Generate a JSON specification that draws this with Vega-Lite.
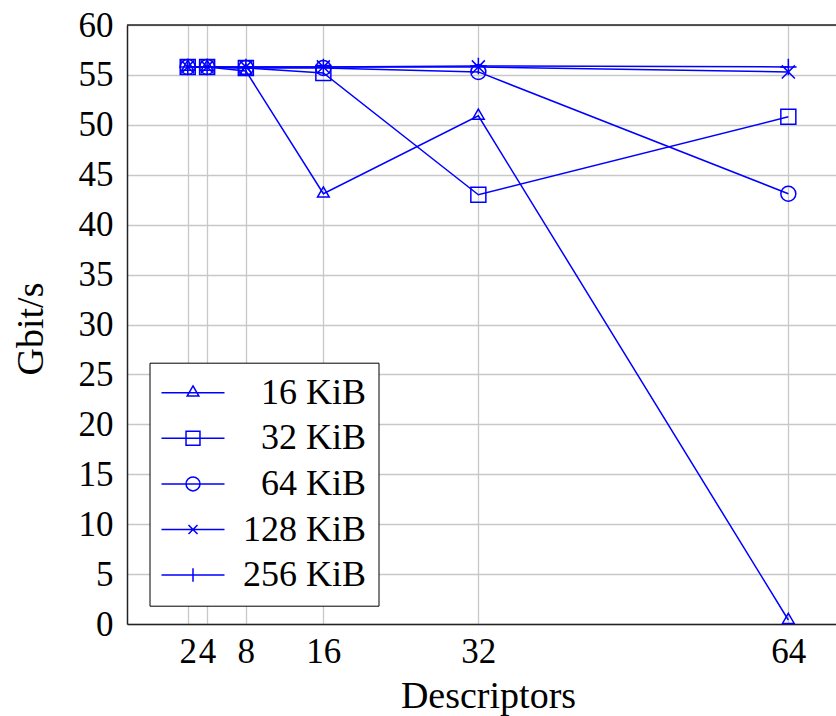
{
  "$schema": "https://vega.github.io/schema/vega-lite/v6.json",
  "width": 709,
  "height": 599,
  "autosize": {"type": "none"},
  "padding": {"left": 127, "top": 25, "right": 0, "bottom": 92},
  "background": "white",
  "config": {
    "view": {"stroke": null},
    "font": "Liberation Serif",
    "axis": {
      "labelFont": "Liberation Serif",
      "labelFontSize": 35,
      "labelColor": "black",
      "titleFont": "Liberation Serif",
      "titleFontSize": 38,
      "titleFontWeight": "normal",
      "titleColor": "black",
      "gridColor": "#c8c8c8",
      "gridWidth": 1.3,
      "domainColor": "#222222",
      "domainWidth": 1.5,
      "ticks": false
    }
  },
  "data": {
    "values": [
      {"Descriptors": 2, "Gbit": 55.8, "series": "16 KiB"},
      {"Descriptors": 4, "Gbit": 55.8, "series": "16 KiB"},
      {"Descriptors": 8, "Gbit": 55.4, "series": "16 KiB"},
      {"Descriptors": 16, "Gbit": 43.1, "series": "16 KiB"},
      {"Descriptors": 32, "Gbit": 50.9, "series": "16 KiB"},
      {"Descriptors": 64, "Gbit": 0.4, "series": "16 KiB"},
      {"Descriptors": 2, "Gbit": 55.8, "series": "32 KiB"},
      {"Descriptors": 4, "Gbit": 55.8, "series": "32 KiB"},
      {"Descriptors": 8, "Gbit": 55.7, "series": "32 KiB"},
      {"Descriptors": 16, "Gbit": 55.2, "series": "32 KiB"},
      {"Descriptors": 32, "Gbit": 43.0, "series": "32 KiB"},
      {"Descriptors": 64, "Gbit": 50.8, "series": "32 KiB"},
      {"Descriptors": 2, "Gbit": 55.8, "series": "64 KiB"},
      {"Descriptors": 4, "Gbit": 55.8, "series": "64 KiB"},
      {"Descriptors": 8, "Gbit": 55.7, "series": "64 KiB"},
      {"Descriptors": 16, "Gbit": 55.7, "series": "64 KiB"},
      {"Descriptors": 32, "Gbit": 55.3, "series": "64 KiB"},
      {"Descriptors": 64, "Gbit": 43.1, "series": "64 KiB"},
      {"Descriptors": 2, "Gbit": 55.8, "series": "128 KiB"},
      {"Descriptors": 4, "Gbit": 55.8, "series": "128 KiB"},
      {"Descriptors": 8, "Gbit": 55.8, "series": "128 KiB"},
      {"Descriptors": 16, "Gbit": 55.8, "series": "128 KiB"},
      {"Descriptors": 32, "Gbit": 55.8, "series": "128 KiB"},
      {"Descriptors": 64, "Gbit": 55.3, "series": "128 KiB"},
      {"Descriptors": 2, "Gbit": 55.8, "series": "256 KiB"},
      {"Descriptors": 4, "Gbit": 55.8, "series": "256 KiB"},
      {"Descriptors": 8, "Gbit": 55.8, "series": "256 KiB"},
      {"Descriptors": 16, "Gbit": 55.8, "series": "256 KiB"},
      {"Descriptors": 32, "Gbit": 55.9, "series": "256 KiB"},
      {"Descriptors": 64, "Gbit": 55.8, "series": "256 KiB"}
    ]
  },
  "layer": [
    {
      "mark": {"type": "line", "color": "#0000ff", "strokeWidth": 1.5},
      "encoding": {
        "x": {
          "field": "Descriptors", "type": "quantitative",
          "scale": {"domain": [-4.27, 68.92], "nice": false, "zero": false},
          "axis": {
            "values": [2, 4, 8, 16, 32, 64],
            "title": "Descriptors",
            "labelPadding": 10,
            "labelOverlap": false,
            "labelFlush": false,
            "titleX": 361,
            "titleY": 83,
            "titleBaseline": "alphabetic"
          }
        },
        "y": {
          "field": "Gbit", "type": "quantitative",
          "scale": {"domain": [0, 60], "nice": false},
          "axis": {
            "values": [0, 5, 10, 15, 20, 25, 30, 35, 40, 45, 50, 55, 60],
            "title": "Gbit/s",
            "labelPadding": 14,
            "labelOverlap": false,
            "labelFlush": false,
            "titleX": -85,
            "titleY": 303.5,
            "titleBaseline": "alphabetic",
            "titleAngle": -90
          }
        },
        "detail": {"field": "series"}
      }
    },
    {
      "mark": {"type": "point", "filled": false, "color": "#0000ff", "strokeWidth": 1.5, "size": 225, "opacity": 1},
      "encoding": {
        "x": {"field": "Descriptors", "type": "quantitative"},
        "y": {"field": "Gbit", "type": "quantitative"},
        "shape": {
          "field": "series", "type": "nominal",
          "scale": {
            "domain": ["16 KiB", "32 KiB", "64 KiB", "128 KiB", "256 KiB"],
            "range": [
              "M0,-0.9L0.78,0.45L-0.78,0.45Z",
              "M-1,-1L1,-1L1,1L-1,1Z",
              "circle",
              "M-0.87,-0.87L0.87,0.87M-0.87,0.87L0.87,-0.87",
              "M-1.1,0L1.1,0M0,-1.1L0,1.1"
            ]
          },
          "legend": null
        }
      }
    },
    {
      "transform": [{"filter": "datum.Descriptors < 0"}],
      "mark": {"type": "point", "filled": false, "color": "#0000ff", "strokeWidth": 1.5, "size": 225, "opacity": 1},
      "encoding": {
        "x": {"field": "Descriptors", "type": "quantitative"},
        "y": {"field": "Gbit", "type": "quantitative"},
        "shape": {
          "field": "series", "type": "nominal",
          "scale": {
            "domain": ["16 KiB", "32 KiB", "64 KiB", "128 KiB", "256 KiB"],
            "range": [
              "M-2.4,0L6,0M1.8,-0.9L2.58,0.45L1.02,0.45Z",
              "M-2.4,0L6,0M0.87,-0.93L2.73,-0.93L2.73,0.93L0.87,0.93Z",
              "M-2.4,0L6,0M2.73,0A0.93,0.93,0,1,1,0.87,0A0.93,0.93,0,1,1,2.73,0Z",
              "M-2.4,0L6,0M1.2,-0.6L2.4,0.6M1.2,0.6L2.4,-0.6",
              "M-2.4,0L6,0M1.8,-0.9L1.8,0.9"
            ]
          },
          "legend": {
            "orient": "none",
            "legendX": 22.5,
            "legendY": 337.7,
            "title": null,
            "padding": 12,
            "strokeColor": "black",
            "fillColor": "white",
            "symbolSize": 225,
            "symbolStrokeWidth": 1.5,
            "symbolStrokeColor": "#0000ff",
            "symbolFillColor": "transparent",
            "labelFont": "Liberation Serif",
            "labelFontSize": 36,
            "labelColor": "black",
            "labelAlign": "right",
            "labelOffset": 168.6,
            "labelLimit": 300,
            "rowPadding": 9.6
          }
        }
      }
    },
    {
      "data": {"values": [{"top": 60}]},
      "mark": {"type": "rule", "color": "#222222", "strokeWidth": 1.5},
      "encoding": {
        "y": {"field": "top", "type": "quantitative"}
      }
    }
  ],
  "resolve": {"scale": {"shape": "independent"}}
}
